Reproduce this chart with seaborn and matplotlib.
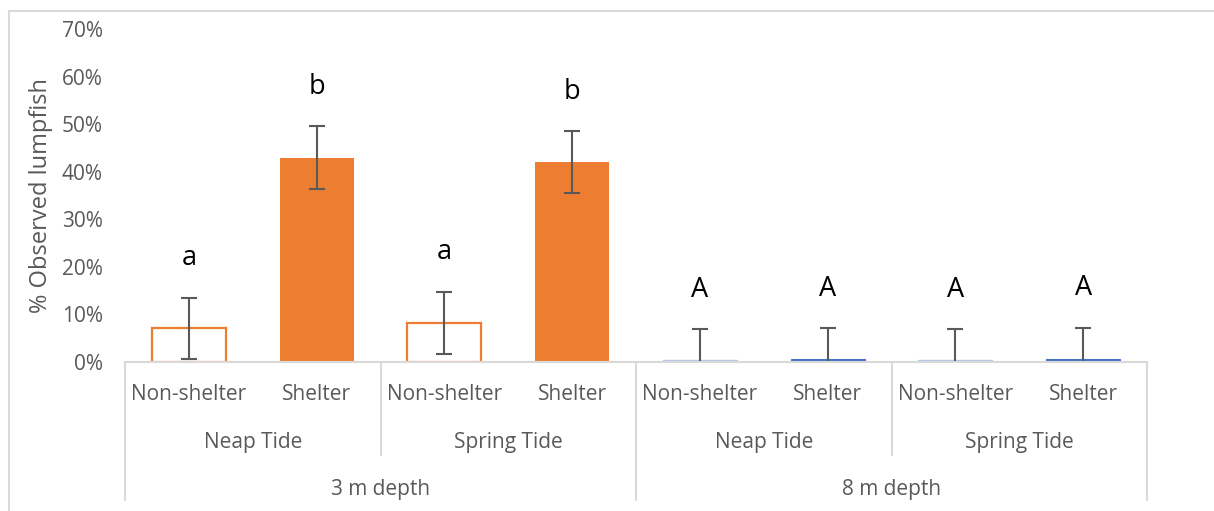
import numpy as np
import pandas as pd
import matplotlib
matplotlib.use("Agg")
import matplotlib.pyplot as plt
from matplotlib.lines import Line2D
import seaborn as sns

# data
depths = ["3 m depth"] * 4 + ["8 m depth"] * 4
tides = ["Neap Tide", "Neap Tide", "Spring Tide", "Spring Tide"] * 2
shelters = ["Non-shelter", "Shelter"] * 4
means = [0.070, 0.430, 0.082, 0.420, 0.003, 0.005, 0.003, 0.006]
errs = [0.065, 0.066, 0.065, 0.065, 0.065, 0.066, 0.065, 0.066]
letters = ["a", "b", "a", "b", "A", "A", "A", "A"]
yticks = [0, 0.1, 0.2, 0.3, 0.4, 0.5, 0.6, 0.7]

df = pd.DataFrame({"depth": depths, "tide": tides, "shelter": shelters,
                   "mean": means, "err": errs, "letter": letters})
df["cond"] = df["depth"] + "|" + df["tide"] + "|" + df["shelter"]

sns.set_style("white")
plt.rcParams["font.family"] = ["Open Sans", "DejaVu Sans"]

W, H = 1214, 511
fig = plt.figure(figsize=(W / 100, H / 100), dpi=100)
ax = fig.add_axes([125 / W, 1 - 361.7 / H, (1147 - 125) / W, (361.7 - 29.3) / H])

sns.barplot(data=df, x="cond", y="mean", order=list(df["cond"]), width=0.58,
            errorbar=None, color="#ED7D31", ax=ax)

orange, blue = "#ED7D31", "#4472C4"
for bar, d, s in zip(ax.patches, depths, shelters):
    if d.startswith("3"):
        if s == "Shelter":
            bar.set_facecolor(orange)
            bar.set_edgecolor("none")
        else:
            bar.set_facecolor("white")
            bar.set_edgecolor(orange)
            bar.set_linewidth(1.6)
    else:
        if s == "Shelter":
            bar.set_facecolor(blue)
            bar.set_edgecolor(blue)
            bar.set_linewidth(0.8)
        else:
            bar.set_facecolor("#C5D3EC")
            bar.set_edgecolor("#B4C7E7")
            bar.set_linewidth(1.0)

xs = np.arange(len(df))
ax.errorbar(xs, df["mean"], yerr=df["err"], fmt="none", ecolor="#595959",
            elinewidth=1.5, capsize=6, capthick=1.5)

for x, m, e, lab in zip(xs, df["mean"], df["err"], df["letter"]):
    ax.text(x, m + e + 0.083, lab, ha="center", va="center", fontsize=19.5,
            color="black")

ax.set_ylim(0, 0.7)
ax.set_xlim(-0.5, len(df) - 0.5)
ax.set_yticks(yticks)
ax.set_yticklabels([f"{int(round(t * 100))}%" for t in yticks])
ax.tick_params(axis="y", length=0, pad=16, labelsize=15, labelcolor="#595959")
ax.set_xticks([])
ax.set_xlabel("")
ax.set_ylabel("% Observed lumpfish", fontsize=17, color="#595959")
ax.yaxis.set_label_coords(-72 / (1147 - 125), 0.5)
for side in ["top", "right", "left"]:
    ax.spines[side].set_visible(False)
ax.spines["bottom"].set_color("#D9D9D9")
ax.spines["bottom"].set_linewidth(1.5)

# multi-level category axis
ah = 361.7 - 29.3
tr = ax.get_xaxis_transform()
grey = "#D9D9D9"
txt = "#595959"
fs = 15
for x, s in zip(xs, shelters):
    ax.text(x, -(394 - 361.7) / ah, s, transform=tr, ha="center", va="center",
            fontsize=fs, color=txt)
for i in range(0, len(df), 2):
    ax.text(i + 0.5, -(442 - 361.7) / ah, tides[i], transform=tr, ha="center",
            va="center", fontsize=fs, color=txt)
for i in range(0, len(df), 4):
    ax.text(i + 1.5, -(489 - 361.7) / ah, depths[i], transform=tr, ha="center",
            va="center", fontsize=fs, color=txt)
for x in [-0.5, 3.5, 7.5]:
    ax.plot([x, x], [0, -(500 - 361.7) / ah], transform=tr, color=grey,
            lw=1.5, clip_on=False)
for x in [1.5, 5.5]:
    ax.plot([x, x], [0, -(455 - 361.7) / ah], transform=tr, color=grey,
            lw=1.5, clip_on=False)

# chart area border
fig.add_artist(Line2D([8.5 / W, 8.5 / W], [0, 1 - 11.5 / H], color=grey, lw=1.5))
fig.add_artist(Line2D([8.5 / W, 1], [1 - 11.5 / H, 1 - 11.5 / H], color=grey, lw=1.5))

fig.savefig("out.png", dpi=100)
